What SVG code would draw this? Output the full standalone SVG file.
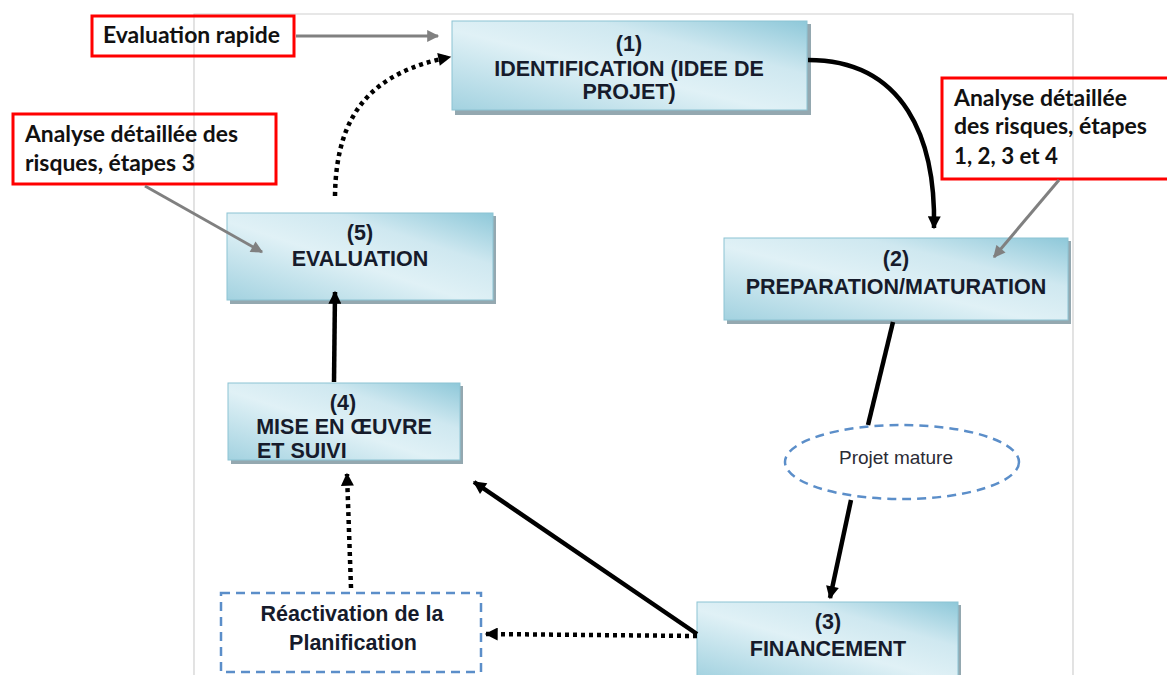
<svg xmlns="http://www.w3.org/2000/svg" width="1167" height="675" viewBox="0 0 1167 675">
<style>
.box{fill:url(#bg);stroke:#8cc3d3;stroke-width:1}
.shadow{fill:#94a8b0}
.bt{font-family:"Liberation Sans",Arial,sans-serif;font-weight:bold;font-size:21.5px;fill:#161b2b;text-anchor:middle}
.rb{fill:none;stroke:#ff0000;stroke-width:3}
.rt{font-family:Lato,"Open Sans",sans-serif;font-weight:bold;font-size:22px;fill:#111}
.solid{fill:none;stroke:#000;stroke-width:4.5}
.dot{fill:none;stroke:#000;stroke-width:4.5;stroke-dasharray:4 4}
.grey{fill:none;stroke:#808080;stroke-width:3}
.page{fill:none;stroke:#d0d0d0;stroke-width:1.2}
.dash{fill:#fff;stroke:#5b8ec9;stroke-width:2.5;stroke-dasharray:9 6}
</style>
<defs>
<linearGradient id="bg" x1="0" y1="1" x2="1" y2="0">
<stop offset="0" stop-color="#a3d2e0"/>
<stop offset="0.45" stop-color="#e0f1f6"/>
<stop offset="0.7" stop-color="#cfe8f0"/>
<stop offset="1" stop-color="#8ec8d9"/>
</linearGradient>
<marker id="ab" viewBox="0 0 10 10" refX="9" refY="5" markerWidth="14" markerHeight="13" markerUnits="userSpaceOnUse" orient="auto"><path d="M0,0 L10,5 L0,10 z" fill="#000"/></marker>
<marker id="ag" viewBox="0 0 10 10" refX="9" refY="5" markerWidth="13" markerHeight="12" markerUnits="userSpaceOnUse" orient="auto"><path d="M0,0 L10,5 L0,10 z" fill="#808080"/></marker>
</defs>
<rect width="1167" height="675" fill="#fff"/>
<g id="page">
<path class="page" d="M194,675 L194,14 L1073,14 L1073,675"/>
</g>
<g id="n1">
<rect class="shadow" x="455" y="24" width="356" height="91"/>
<rect class="box" x="452" y="21" width="355" height="89"/>
<text class="bt" x="629" y="51">(1)</text>
<text class="bt" x="629" y="76">IDENTIFICATION (IDEE DE</text>
<text class="bt" x="629" y="99">PROJET)</text>
</g>
<g id="n2">
<rect class="shadow" x="727" y="241" width="344" height="83"/>
<rect class="box" x="724" y="238" width="344" height="82"/>
<text class="bt" x="896" y="266">(2)</text>
<text class="bt" x="896" y="294">PREPARATION/MATURATION</text>
</g>
<g id="n3">
<rect class="shadow" x="700" y="605" width="261" height="75"/>
<rect class="box" x="697" y="602" width="261" height="75"/>
<text class="bt" x="828" y="629">(3)</text>
<text class="bt" x="828" y="656">FINANCEMENT</text>
</g>
<g id="n4">
<rect class="shadow" x="231" y="386" width="232" height="78"/>
<rect class="box" x="228" y="383" width="232" height="77"/>
<text class="bt" x="343" y="410">(4)</text>
<text class="bt" x="344" y="434">MISE EN ŒUVRE</text>
<text class="bt" x="257" y="458" style="text-anchor:start">ET SUIVI</text>
</g>
<g id="n5">
<rect class="shadow" x="230" y="216" width="266" height="88"/>
<rect class="box" x="227" y="213" width="266" height="87"/>
<text class="bt" x="360" y="240">(5)</text>
<text class="bt" x="360" y="266">EVALUATION</text>
</g>
<g id="reactivation">
<rect class="dash" x="221" y="593" width="260" height="79"/>
<text class="bt" x="352" y="621">Réactivation de la</text>
<text class="bt" x="353" y="650">Planification</text>
</g>
<g id="mature">
<ellipse class="dash" cx="902" cy="462" rx="117" ry="37"/>
<text x="896" y="464" style="font-family:'Liberation Sans',Arial,sans-serif;font-size:19px;fill:#2b2b35;text-anchor:middle">Projet mature</text>
</g>
<g id="note1">
<rect class="rb" x="92" y="16" width="202" height="40"/>
<text class="rt" x="103" y="43" textLength="177" lengthAdjust="spacingAndGlyphs">Evaluation rapide</text>
</g>
<g id="note2">
<rect class="rb" x="13" y="114" width="263" height="70"/>
<text class="rt" x="25" y="142" textLength="213" lengthAdjust="spacingAndGlyphs">Analyse détaillée des</text>
<text class="rt" x="25" y="171" textLength="170" lengthAdjust="spacingAndGlyphs">risques, étapes 3</text>
</g>
<g id="note3">
<rect class="rb" x="942" y="78" width="240" height="101"/>
<text class="rt" x="954" y="106" textLength="173" lengthAdjust="spacingAndGlyphs">Analyse détaillée</text>
<text class="rt" x="954" y="134" textLength="193" lengthAdjust="spacingAndGlyphs">des risques, étapes</text>
<text class="rt" x="954" y="164" textLength="104" lengthAdjust="spacingAndGlyphs">1, 2, 3 et 4</text>
</g>
<g id="connectors">
<path class="solid" d="M808,60 C905,60 936,140 934,228" marker-end="url(#ab)"/>
<path class="solid" d="M893,322 L868,425"/>
<path class="solid" d="M851,500 L830,598" marker-end="url(#ab)"/>
<path class="solid" d="M697,634 L474,482" marker-end="url(#ab)"/>
<path class="dot" d="M697,636 L486,634" marker-end="url(#ab)"/>
<path class="dot" d="M351,588 L347,474" marker-end="url(#ab)"/>
<path class="solid" d="M334,382 L335,292" marker-end="url(#ab)"/>
<path class="dot" d="M335,196 C336,110 375,72 450,57" marker-end="url(#ab)"/>
<path class="grey" d="M296,36 L438,36" marker-end="url(#ag)"/>
<path class="grey" d="M145,186 L262,252" marker-end="url(#ag)"/>
<path class="grey" d="M1059,180 L994,257" marker-end="url(#ag)"/>
</g>
</svg>
